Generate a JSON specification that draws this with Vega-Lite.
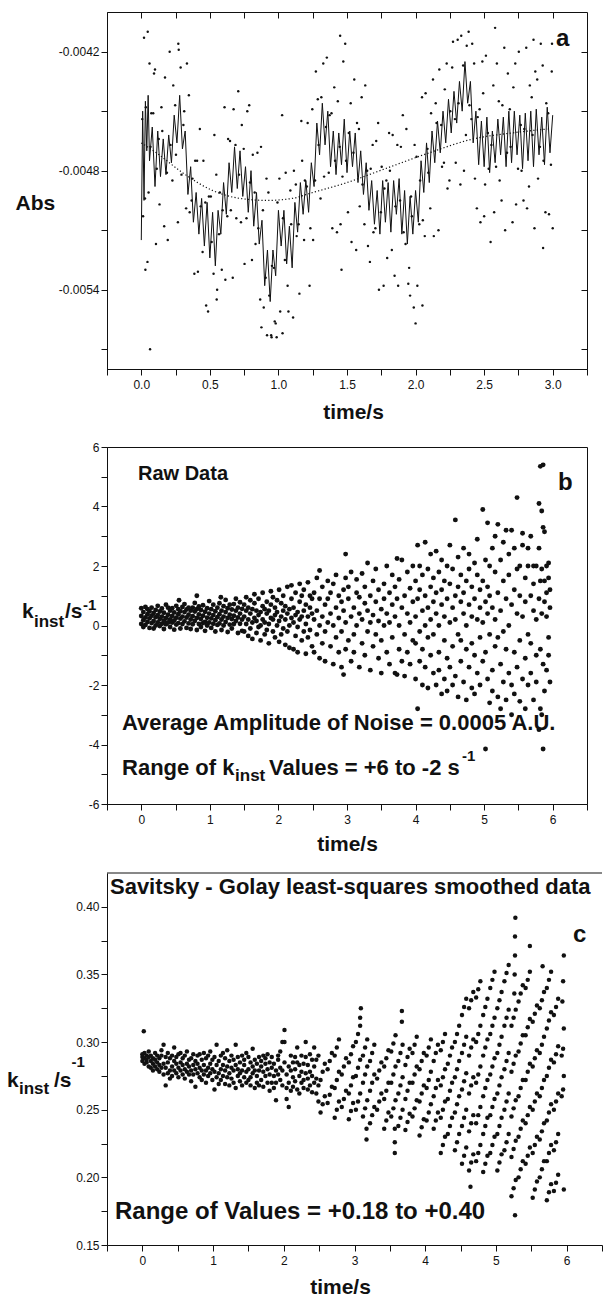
{
"$schema":"https://vega.github.io/schema/vega-lite/v6.json",
"background":"white",
"padding":{"left":7,"top":11,"right":0,"bottom":0},
"spacing":17,
"config":{"font":"Liberation Sans","view":{"stroke":"#111","strokeWidth":1},
"axis":{"grid":false,"labelFontSize":12,"labelColor":"#111","tickColor":"#111","domainColor":"#111","tickSize":6,"titleFontSize":21,"titleFontWeight":"bold","titleColor":"#111","labelOverlap":false,"labelFlush":false,"labelBound":false},
"axisY":{"labelPadding":2},"axisX":{"labelPadding":4}},
"vconcat":[
{"width":480,"height":357,
"resolve":{"axis":{"x":"independent","y":"independent"}},
"layer":[
{"data":{"values":[
{"t":0.007,"v":-0.00454},{"t":0.027,"v":-0.00494},{"t":0.047,"v":-0.0041},{"t":0.067,"v":-0.00468},{"t":0.087,"v":-0.00451},{"t":0.107,"v":-0.00517},{"t":0.127,"v":-0.00464},{"t":0.147,"v":-0.00448},{"t":0.167,"v":-0.00508},{"t":0.187,"v":-0.00481},
{"t":0.207,"v":-0.0042},{"t":0.227,"v":-0.00485},{"t":0.247,"v":-0.00447},{"t":0.267,"v":-0.00506},{"t":0.287,"v":-0.00428},{"t":0.307,"v":-0.00457},{"t":0.327,"v":-0.00499},{"t":0.347,"v":-0.00442},{"t":0.367,"v":-0.00495},{"t":0.387,"v":-0.00532},
{"t":0.407,"v":-0.00475},{"t":0.427,"v":-0.00459},{"t":0.447,"v":-0.00521},{"t":0.467,"v":-0.00496},{"t":0.487,"v":-0.00551},{"t":0.507,"v":-0.00493},{"t":0.527,"v":-0.00532},{"t":0.547,"v":-0.00482},{"t":0.567,"v":-0.00512},{"t":0.587,"v":-0.0053},
{"t":0.607,"v":-0.00448},{"t":0.627,"v":-0.00503},{"t":0.647,"v":-0.00465},{"t":0.667,"v":-0.00534},{"t":0.687,"v":-0.00467},{"t":0.707,"v":-0.0044},{"t":0.727,"v":-0.00506},{"t":0.747,"v":-0.00469},{"t":0.767,"v":-0.00504},{"t":0.787,"v":-0.00447},
{"t":0.807,"v":-0.00525},{"t":0.827,"v":-0.00491},{"t":0.847,"v":-0.00471},{"t":0.867,"v":-0.00545},{"t":0.887,"v":-0.005},{"t":0.907,"v":-0.00534},{"t":0.927,"v":-0.00491},{"t":0.947,"v":-0.00563},{"t":0.967,"v":-0.00529},{"t":0.987,"v":-0.00564},
{"t":1.007,"v":-0.00484},{"t":1.027,"v":-0.00452},{"t":1.047,"v":-0.00525},{"t":1.067,"v":-0.00538},{"t":1.087,"v":-0.0049},{"t":1.107,"v":-0.00554},{"t":1.127,"v":-0.00487},{"t":1.147,"v":-0.00507},{"t":1.167,"v":-0.00455},{"t":1.187,"v":-0.00515},
{"t":1.207,"v":-0.00488},{"t":1.227,"v":-0.00538},{"t":1.247,"v":-0.00449},{"t":1.267,"v":-0.00485},{"t":1.287,"v":-0.00444},{"t":1.307,"v":-0.00494},{"t":1.327,"v":-0.00426},{"t":1.347,"v":-0.00458},{"t":1.367,"v":-0.00481},{"t":1.387,"v":-0.00451},
{"t":1.407,"v":-0.00438},{"t":1.427,"v":-0.00511},{"t":1.447,"v":-0.00468},{"t":1.467,"v":-0.00483},{"t":1.487,"v":-0.00416},{"t":1.507,"v":-0.00501},{"t":1.527,"v":-0.00446},{"t":1.547,"v":-0.00471},{"t":1.567,"v":-0.0052},{"t":1.587,"v":-0.00459},
{"t":1.607,"v":-0.00443},{"t":1.627,"v":-0.00507},{"t":1.647,"v":-0.0048},{"t":1.667,"v":-0.00526},{"t":1.687,"v":-0.00467},{"t":1.707,"v":-0.00509},{"t":1.727,"v":-0.00456},{"t":1.747,"v":-0.00501},{"t":1.767,"v":-0.00538},{"t":1.787,"v":-0.00485},
{"t":1.807,"v":-0.00461},{"t":1.827,"v":-0.0052},{"t":1.847,"v":-0.00533},{"t":1.867,"v":-0.00467},{"t":1.887,"v":-0.00495},{"t":1.907,"v":-0.00452},{"t":1.927,"v":-0.00517},{"t":1.947,"v":-0.00537},{"t":1.967,"v":-0.00493},{"t":1.987,"v":-0.00549},
{"t":2.007,"v":-0.00473},{"t":2.027,"v":-0.00507},{"t":2.047,"v":-0.00443},{"t":2.067,"v":-0.00513},{"t":2.087,"v":-0.00469},{"t":2.107,"v":-0.00499},{"t":2.127,"v":-0.00434},{"t":2.147,"v":-0.00446},{"t":2.167,"v":-0.0051},{"t":2.187,"v":-0.00457},
{"t":2.207,"v":-0.00476},{"t":2.227,"v":-0.00426},{"t":2.247,"v":-0.00485},{"t":2.267,"v":-0.00428},{"t":2.287,"v":-0.00454},{"t":2.307,"v":-0.00414},{"t":2.327,"v":-0.00487},{"t":2.347,"v":-0.00427},{"t":2.367,"v":-0.00462},{"t":2.387,"v":-0.0041},
{"t":2.407,"v":-0.00454},{"t":2.427,"v":-0.00426},{"t":2.447,"v":-0.00499},{"t":2.467,"v":-0.00449},{"t":2.487,"v":-0.00425},{"t":2.507,"v":-0.00487},{"t":2.527,"v":-0.00461},{"t":2.547,"v":-0.00516},{"t":2.567,"v":-0.00437},{"t":2.587,"v":-0.00478},
{"t":2.607,"v":-0.00445},{"t":2.627,"v":-0.00495},{"t":2.647,"v":-0.00418},{"t":2.667,"v":-0.00471},{"t":2.687,"v":-0.00449},{"t":2.707,"v":-0.00506},{"t":2.727,"v":-0.00426},{"t":2.747,"v":-0.00479},{"t":2.767,"v":-0.00457},{"t":2.787,"v":-0.00495},
{"t":2.807,"v":-0.00418},{"t":2.827,"v":-0.00488},{"t":2.847,"v":-0.00443},{"t":2.867,"v":-0.00509},{"t":2.887,"v":-0.00434},{"t":2.907,"v":-0.00468},{"t":2.927,"v":-0.00427},{"t":2.947,"v":-0.00501},{"t":2.967,"v":-0.00451},{"t":2.987,"v":-0.00477},{"t":2.995,"v":-0.00416},
{"t":0.013,"v":-0.00503},{"t":0.033,"v":-0.00448},{"t":0.053,"v":-0.00491},{"t":0.073,"v":-0.00451},{"t":0.093,"v":-0.00431},{"t":0.113,"v":-0.00479},{"t":0.133,"v":-0.00497},{"t":0.153,"v":-0.0046},{"t":0.173,"v":-0.00433},{"t":0.193,"v":-0.00515},
{"t":0.213,"v":-0.00467},{"t":0.233,"v":-0.00437},{"t":0.253,"v":-0.00472},{"t":0.273,"v":-0.00419},{"t":0.293,"v":-0.00482},{"t":0.313,"v":-0.0045},{"t":0.333,"v":-0.00426},{"t":0.353,"v":-0.00501},{"t":0.373,"v":-0.00484},{"t":0.393,"v":-0.00475},
{"t":0.413,"v":-0.00531},{"t":0.433,"v":-0.00498},{"t":0.453,"v":-0.00475},{"t":0.473,"v":-0.00548},{"t":0.493,"v":-0.00493},{"t":0.513,"v":-0.00516},{"t":0.533,"v":-0.00462},{"t":0.553,"v":-0.0054},{"t":0.573,"v":-0.00491},{"t":0.593,"v":-0.005},
{"t":0.613,"v":-0.00535},{"t":0.633,"v":-0.00464},{"t":0.653,"v":-0.005},{"t":0.673,"v":-0.00449},{"t":0.693,"v":-0.00504},{"t":0.713,"v":-0.00482},{"t":0.733,"v":-0.00457},{"t":0.753,"v":-0.00527},{"t":0.773,"v":-0.0045},{"t":0.793,"v":-0.00486},
{"t":0.813,"v":-0.00472},{"t":0.833,"v":-0.00517},{"t":0.853,"v":-0.00509},{"t":0.873,"v":-0.00468},{"t":0.893,"v":-0.00549},{"t":0.913,"v":-0.00484},{"t":0.933,"v":-0.00543},{"t":0.953,"v":-0.00528},{"t":0.973,"v":-0.00556},{"t":0.993,"v":-0.00496},
{"t":1.013,"v":-0.00551},{"t":1.033,"v":-0.00504},{"t":1.053,"v":-0.00481},{"t":1.073,"v":-0.00551},{"t":1.093,"v":-0.00507},{"t":1.113,"v":-0.0048},{"t":1.133,"v":-0.00513},{"t":1.153,"v":-0.00542},{"t":1.173,"v":-0.00475},{"t":1.193,"v":-0.00485},
{"t":1.213,"v":-0.00456},{"t":1.233,"v":-0.00509},{"t":1.253,"v":-0.00515},{"t":1.273,"v":-0.0043},{"t":1.293,"v":-0.00467},{"t":1.313,"v":-0.00443},{"t":1.333,"v":-0.00483},{"t":1.353,"v":-0.00423},{"t":1.373,"v":-0.00452},{"t":1.393,"v":-0.00509},
{"t":1.413,"v":-0.00475},{"t":1.433,"v":-0.00445},{"t":1.453,"v":-0.00507},{"t":1.473,"v":-0.00425},{"t":1.493,"v":-0.00475},{"t":1.513,"v":-0.00461},{"t":1.533,"v":-0.00516},{"t":1.553,"v":-0.00434},{"t":1.573,"v":-0.00456},{"t":1.593,"v":-0.00498},
{"t":1.613,"v":-0.00487},{"t":1.633,"v":-0.00437},{"t":1.653,"v":-0.00518},{"t":1.673,"v":-0.00479},{"t":1.693,"v":-0.00511},{"t":1.713,"v":-0.00465},{"t":1.733,"v":-0.0054},{"t":1.753,"v":-0.00478},{"t":1.773,"v":-0.00489},{"t":1.793,"v":-0.00524},
{"t":1.813,"v":-0.0048},{"t":1.833,"v":-0.00462},{"t":1.853,"v":-0.00498},{"t":1.873,"v":-0.00538},{"t":1.893,"v":-0.00468},{"t":1.913,"v":-0.00511},{"t":1.933,"v":-0.00459},{"t":1.953,"v":-0.00529},{"t":1.973,"v":-0.00503},{"t":1.993,"v":-0.00467},
{"t":2.013,"v":-0.00538},{"t":2.033,"v":-0.00485},{"t":2.053,"v":-0.00505},{"t":2.073,"v":-0.00441},{"t":2.093,"v":-0.00481},{"t":2.113,"v":-0.00451},{"t":2.133,"v":-0.00513},{"t":2.153,"v":-0.00456},{"t":2.173,"v":-0.00429},{"t":2.193,"v":-0.00478},
{"t":2.213,"v":-0.00439},{"t":2.233,"v":-0.00489},{"t":2.253,"v":-0.0045},{"t":2.273,"v":-0.00415},{"t":2.293,"v":-0.00476},{"t":2.313,"v":-0.00446},{"t":2.333,"v":-0.00412},{"t":2.353,"v":-0.0048},{"t":2.373,"v":-0.00417},{"t":2.393,"v":-0.00447},
{"t":2.413,"v":-0.00416},{"t":2.433,"v":-0.00484},{"t":2.453,"v":-0.00453},{"t":2.473,"v":-0.00506},{"t":2.493,"v":-0.00441},{"t":2.513,"v":-0.00422},{"t":2.533,"v":-0.00479},{"t":2.553,"v":-0.00467},{"t":2.573,"v":-0.00501},{"t":2.593,"v":-0.00426},
{"t":2.613,"v":-0.00485},{"t":2.633,"v":-0.00447},{"t":2.653,"v":-0.0051},{"t":2.673,"v":-0.00431},{"t":2.693,"v":-0.00468},{"t":2.713,"v":-0.00438},{"t":2.733,"v":-0.00497},{"t":2.753,"v":-0.0042},{"t":2.773,"v":-0.0048},{"t":2.793,"v":-0.00459},
{"t":2.813,"v":-0.00499},{"t":2.833,"v":-0.00437},{"t":2.853,"v":-0.00462},{"t":2.873,"v":-0.0043},{"t":2.893,"v":-0.00484},{"t":2.913,"v":-0.00416},{"t":2.933,"v":-0.00475},{"t":2.953,"v":-0.00446},{"t":2.973,"v":-0.00502},{"t":2.993,"v":-0.0043},
{"t":0.064,"v":-0.0057},{"t":0.876,"v":-0.00559},{"t":0.917,"v":-0.00563},{"t":0.95,"v":-0.00564},{"t":1.03,"v":-0.00562},{"t":0.98,"v":-0.00557},{"t":2.0,"v":-0.00557},{"t":2.05,"v":-0.00548},{"t":1.96,"v":-0.00543},{"t":0.55,"v":-0.00545},
{"t":0.02,"v":-0.00413},{"t":0.06,"v":-0.00426},{"t":0.1,"v":-0.00429},{"t":0.27,"v":-0.00416},{"t":1.45,"v":-0.00412},{"t":2.58,"v":-0.00408},{"t":2.86,"v":-0.00414},{"t":2.93,"v":-0.00519},{"t":3.0,"v":-0.00509},{"t":1.46,"v":-0.0053},{"t":2.5,"v":-0.00503},{"t":0.03,"v":-0.0053},{"t":0.045,"v":-0.00526}
]},
"mark":{"type":"circle","size":6,"color":"#111","opacity":1},
"encoding":{
"x":{"field":"t","type":"quantitative","scale":{"domain":[-0.25,3.25],"nice":false,"zero":false},
"axis":{"orient":"bottom","values":[-0.25,0,0.25,0.5,0.75,1,1.25,1.5,1.75,2,2.25,2.5,2.75,3,3.25],"labelExpr":"datum.value >= 0 && datum.value <= 3 && datum.value*2 == floor(datum.value*2) ? format(datum.value, '.1f') : ''","title":"time/s","titleX":246,"titleY":49,"titleBaseline":"alphabetic","titleAlign":"center"}},
"y":{"field":"v","type":"quantitative","scale":{"domain":[-0.0058,-0.004],"nice":false,"zero":false},
"axis":{"orient":"left","values":[-0.0057,-0.0054,-0.0051,-0.0048,-0.0045,-0.0042],"labelExpr":"datum.value == -0.0042 ? '-0.0042' : datum.value == -0.0048 ? '-0.0048' : datum.value == -0.0054 ? '-0.0054' : ''","title":"Abs","titleAngle":0,"titleAlign":"left","titleBaseline":"alphabetic","titleX":-92,"titleY":197}}}},
{"data":{"values":[
{"t":0,"v":-0.00515},{"t":0.01,"v":-0.0045},{"t":0.02,"v":-0.00495},{"t":0.03,"v":-0.00445},{"t":0.04,"v":-0.0047},{"t":0.05,"v":-0.00442},{"t":0.06,"v":-0.00475},{"t":0.08,"v":-0.00458},{"t":0.1,"v":-0.00488},{"t":0.12,"v":-0.0046},
{"t":0.14,"v":-0.00483},{"t":0.16,"v":-0.00464},{"t":0.18,"v":-0.00482},{"t":0.2,"v":-0.00462},{"t":0.22,"v":-0.00476},{"t":0.24,"v":-0.00452},{"t":0.26,"v":-0.00466},{"t":0.28,"v":-0.00442},{"t":0.3,"v":-0.00469},{"t":0.32,"v":-0.0046},
{"t":0.34,"v":-0.00492},{"t":0.36,"v":-0.00478},{"t":0.38,"v":-0.00506},{"t":0.4,"v":-0.00491},{"t":0.42,"v":-0.00512},{"t":0.44,"v":-0.00494},{"t":0.46,"v":-0.00518},{"t":0.48,"v":-0.00496},{"t":0.5,"v":-0.00524},{"t":0.52,"v":-0.00501},
{"t":0.54,"v":-0.00528},{"t":0.56,"v":-0.005},{"t":0.58,"v":-0.00512},{"t":0.6,"v":-0.00486},{"t":0.62,"v":-0.00502},{"t":0.64,"v":-0.00476},{"t":0.66,"v":-0.00491},{"t":0.68,"v":-0.00468},{"t":0.7,"v":-0.00489},{"t":0.72,"v":-0.0047},
{"t":0.74,"v":-0.00493},{"t":0.76,"v":-0.00478},{"t":0.78,"v":-0.00501},{"t":0.8,"v":-0.0048},{"t":0.82,"v":-0.00508},{"t":0.84,"v":-0.00491},{"t":0.86,"v":-0.00517},{"t":0.88,"v":-0.00505},{"t":0.9,"v":-0.00538},{"t":0.92,"v":-0.0052},
{"t":0.94,"v":-0.00546},{"t":0.96,"v":-0.0052},{"t":0.98,"v":-0.00533},{"t":1,"v":-0.005},{"t":1.02,"v":-0.00518},{"t":1.04,"v":-0.005},{"t":1.06,"v":-0.00527},{"t":1.08,"v":-0.00508},{"t":1.1,"v":-0.00529},{"t":1.12,"v":-0.00496},
{"t":1.14,"v":-0.00511},{"t":1.16,"v":-0.00486},{"t":1.18,"v":-0.00502},{"t":1.2,"v":-0.00485},{"t":1.22,"v":-0.00501},{"t":1.24,"v":-0.00476},{"t":1.26,"v":-0.00488},{"t":1.28,"v":-0.00456},{"t":1.3,"v":-0.00472},{"t":1.32,"v":-0.00446},
{"t":1.34,"v":-0.00467},{"t":1.36,"v":-0.0045},{"t":1.38,"v":-0.00478},{"t":1.4,"v":-0.0046},{"t":1.42,"v":-0.00482},{"t":1.44,"v":-0.00461},{"t":1.46,"v":-0.00477},{"t":1.48,"v":-0.00454},{"t":1.5,"v":-0.00481},{"t":1.52,"v":-0.0046},
{"t":1.54,"v":-0.00478},{"t":1.56,"v":-0.00461},{"t":1.58,"v":-0.00486},{"t":1.6,"v":-0.0047},{"t":1.62,"v":-0.00492},{"t":1.64,"v":-0.00476},{"t":1.66,"v":-0.005},{"t":1.68,"v":-0.00485},{"t":1.7,"v":-0.00507},{"t":1.72,"v":-0.0049},
{"t":1.74,"v":-0.00512},{"t":1.76,"v":-0.00485},{"t":1.78,"v":-0.00506},{"t":1.8,"v":-0.00486},{"t":1.82,"v":-0.00511},{"t":1.84,"v":-0.00485},{"t":1.86,"v":-0.00502},{"t":1.88,"v":-0.00484},{"t":1.9,"v":-0.00512},{"t":1.92,"v":-0.0049},
{"t":1.94,"v":-0.00517},{"t":1.96,"v":-0.00493},{"t":1.98,"v":-0.00512},{"t":2,"v":-0.0049},{"t":2.02,"v":-0.00506},{"t":2.04,"v":-0.00475},{"t":2.06,"v":-0.00491},{"t":2.08,"v":-0.00466},{"t":2.1,"v":-0.00486},{"t":2.12,"v":-0.0046},
{"t":2.14,"v":-0.00476},{"t":2.16,"v":-0.00455},{"t":2.18,"v":-0.00471},{"t":2.2,"v":-0.0045},{"t":2.22,"v":-0.00466},{"t":2.24,"v":-0.00444},{"t":2.26,"v":-0.00461},{"t":2.28,"v":-0.0044},{"t":2.3,"v":-0.00456},{"t":2.32,"v":-0.00435},
{"t":2.34,"v":-0.0045},{"t":2.36,"v":-0.00425},{"t":2.38,"v":-0.00446},{"t":2.4,"v":-0.00435},{"t":2.42,"v":-0.00466},{"t":2.44,"v":-0.0045},{"t":2.46,"v":-0.00477},{"t":2.48,"v":-0.00455},{"t":2.5,"v":-0.00478},{"t":2.52,"v":-0.00453},
{"t":2.54,"v":-0.00481},{"t":2.56,"v":-0.0046},{"t":2.58,"v":-0.00476},{"t":2.6,"v":-0.00454},{"t":2.62,"v":-0.00472},{"t":2.64,"v":-0.00453},{"t":2.66,"v":-0.00478},{"t":2.68,"v":-0.0045},{"t":2.7,"v":-0.00476},{"t":2.72,"v":-0.0045},
{"t":2.74,"v":-0.00472},{"t":2.76,"v":-0.00452},{"t":2.78,"v":-0.00479},{"t":2.8,"v":-0.00451},{"t":2.82,"v":-0.00475},{"t":2.84,"v":-0.0045},{"t":2.86,"v":-0.00478},{"t":2.88,"v":-0.00449},{"t":2.9,"v":-0.00472},{"t":2.92,"v":-0.00453},
{"t":2.94,"v":-0.00477},{"t":2.96,"v":-0.00448},{"t":2.98,"v":-0.00471},{"t":3,"v":-0.00452}
]},
"mark":{"type":"line","color":"#111","strokeWidth":1},
"encoding":{
"x":{"field":"t","type":"quantitative","scale":{"domain":[-0.25,3.25],"nice":false,"zero":false},"axis":{"orient":"top","values":[0,0.25,0.5,0.75,1,1.25,1.5,1.75,2,2.25,2.5,2.75,3],"labels":false,"tickSize":-6,"domain":false,"title":null}},
"y":{"field":"v","type":"quantitative","scale":{"domain":[-0.0058,-0.004],"nice":false,"zero":false},"axis":{"orient":"right","values":[-0.0057,-0.0054,-0.0051,-0.0048,-0.0045,-0.0042],"labels":false,"tickSize":-6,"domain":false,"title":null}}}},
{"data":{"values":[
{"t":0,"v":-0.00466},{"t":0.11,"v":-0.00471},{"t":0.3,"v":-0.00481},{"t":0.52,"v":-0.0049},{"t":0.72,"v":-0.00494},{"t":0.92,"v":-0.00495},{"t":1.1,"v":-0.00494},{"t":1.25,"v":-0.00491},{"t":1.5,"v":-0.00486},{"t":1.74,"v":-0.0048},{"t":2.1,"v":-0.00471},{"t":2.42,"v":-0.00464},{"t":2.7,"v":-0.00461},{"t":2.96,"v":-0.00459}
]},
"mark":{"type":"line","color":"#111","strokeWidth":1.2,"strokeDash":[1.2,2.2],"interpolate":"monotone"},
"encoding":{"x":{"field":"t","type":"quantitative","axis":null},"y":{"field":"v","type":"quantitative","axis":null}}},
{"data":{"values":[{}]},
"mark":{"type":"text","text":"a","fontSize":24,"fontWeight":"bold","align":"left","baseline":"alphabetic","color":"#111"},
"encoding":{"x":{"datum":3.024,"type":"quantitative","axis":null},"y":{"datum":-0.004171,"type":"quantitative","axis":null}}}
]},
{"width":480,"height":357,
"resolve":{"axis":{"x":"independent","y":"independent"}},
"layer":[
{"data":{"values":[
{"t":0,"v":0.05},{"t":0,"v":0.32},{"t":0,"v":0.58},{"t":0.03,"v":0.18},{"t":0.03,"v":0.45},{"t":0.03,"v":-0.05},{"t":0.06,"v":0.27},{"t":0.06,"v":0.62},{"t":0.06,"v":0.02},{"t":0.09,"v":0.12},{"t":0.09,"v":0.38},{"t":0.09,"v":0.55},
{"t":0.12,"v":-0.08},{"t":0.12,"v":0.24},{"t":0.12,"v":0.48},{"t":0.15,"v":0.33},{"t":0.15,"v":0.6},{"t":0.15,"v":0.08},{"t":0.18,"v":0.15},{"t":0.18,"v":0.42},{"t":0.18,"v":-0.1},{"t":0.21,"v":0.28},{"t":0.21,"v":0.52},{"t":0.21,"v":0},
{"t":0.24,"v":0.1},{"t":0.24,"v":0.35},{"t":0.24,"v":0.66},{"t":0.27,"v":-0.02},{"t":0.27,"v":0.22},{"t":0.27,"v":0.47},{"t":0.3,"v":0.3},{"t":0.3,"v":0.57},{"t":0.3,"v":0.06},{"t":0.33,"v":0.16},{"t":0.33,"v":0.43},{"t":0.33,"v":-0.12},
{"t":0.36,"v":0.25},{"t":0.36,"v":0.7},{"t":0.36,"v":0.04},{"t":0.39,"v":0.1},{"t":0.39,"v":0.36},{"t":0.39,"v":0.6},{"t":0.42,"v":-0.05},{"t":0.42,"v":0.2},{"t":0.42,"v":0.5},{"t":0.45,"v":0.32},{"t":0.45,"v":0.58},{"t":0.45,"v":0.1},
{"t":0.48,"v":0.17},{"t":0.48,"v":0.44},{"t":0.48,"v":-0.14},{"t":0.51,"v":0.26},{"t":0.51,"v":0.66},{"t":0.51,"v":0.03},{"t":0.54,"v":0.08},{"t":0.54,"v":0.38},{"t":0.54,"v":0.55},{"t":0.57,"v":-0.1},{"t":0.57,"v":0.23},{"t":0.57,"v":0.48},
{"t":0.6,"v":0.3},{"t":0.6,"v":0.62},{"t":0.6,"v":0.05},{"t":0.63,"v":0.14},{"t":0.63,"v":0.45},{"t":0.63,"v":0.72},{"t":0.66,"v":0.27},{"t":0.66,"v":0.54},{"t":0.66,"v":-0.08},{"t":0.69,"v":0.07},{"t":0.69,"v":0.36},{"t":0.69,"v":0.6},
{"t":0.72,"v":-0.12},{"t":0.72,"v":0.2},{"t":0.72,"v":0.5},{"t":0.75,"v":0.31},{"t":0.75,"v":0.6},{"t":0.75,"v":0.04},{"t":0.78,"v":0.15},{"t":0.78,"v":0.47},{"t":0.78,"v":0.76},{"t":0.81,"v":0.25},{"t":0.81,"v":0.55},{"t":0.81,"v":-0.15},
{"t":0.84,"v":0.05},{"t":0.84,"v":0.37},{"t":0.84,"v":0.64},{"t":0.87,"v":-0.05},{"t":0.87,"v":0.22},{"t":0.87,"v":0.52},{"t":0.9,"v":0.33},{"t":0.9,"v":0.68},{"t":0.9,"v":0.08},{"t":0.93,"v":0.12},{"t":0.93,"v":0.46},{"t":0.93,"v":-0.18},
{"t":0.96,"v":0.26},{"t":0.96,"v":0.58},{"t":0.96,"v":0},{"t":0.99,"v":0.1},{"t":0.99,"v":0.4},{"t":0.99,"v":0.82},{"t":1.02,"v":-0.08},{"t":1.02,"v":0.24},{"t":1.02,"v":0.55},{"t":1.05,"v":0.35},{"t":1.05,"v":0.7},{"t":1.05,"v":0.06},
{"t":1.08,"v":0.18},{"t":1.08,"v":0.48},{"t":1.08,"v":-0.2},{"t":1.11,"v":0.28},{"t":1.11,"v":0.6},{"t":1.11,"v":0.02},{"t":1.14,"v":0.07},{"t":1.14,"v":0.38},{"t":1.14,"v":0.75},{"t":1.17,"v":-0.15},{"t":1.17,"v":0.2},{"t":1.17,"v":0.5},
{"t":1.2,"v":0.3},{"t":1.2,"v":0.65},{"t":1.2,"v":0},{"t":1.23,"v":0.12},{"t":1.23,"v":0.45},{"t":1.23,"v":0.86},{"t":1.26,"v":0.25},{"t":1.26,"v":0.58},{"t":1.26,"v":-0.22},{"t":1.29,"v":0.03},{"t":1.29,"v":0.36},{"t":1.29,"v":0.7},
{"t":1.32,"v":-0.1},{"t":1.32,"v":0.22},{"t":1.32,"v":0.54},{"t":1.35,"v":0.33},{"t":1.35,"v":0.72},{"t":1.35,"v":0.05},{"t":1.38,"v":0.15},{"t":1.38,"v":0.5},{"t":1.38,"v":0.9},{"t":1.41,"v":0.27},{"t":1.41,"v":0.6},{"t":1.41,"v":-0.25},
{"t":1.44,"v":0.06},{"t":1.44,"v":0.4},{"t":1.44,"v":0.78},{"t":1.47,"v":-0.18},{"t":1.47,"v":0.2},{"t":1.47,"v":0.56},{"t":0.81,"v":1.0},{"t":1.16,"v":0.95},{"t":0.55,"v":0.85},
{"t":1.5,"v":0.3},{"t":1.5,"v":0.7},{"t":1.5,"v":-0.2},{"t":1.53,"v":0.05},{"t":1.53,"v":0.5},{"t":1.53,"v":0.95},{"t":1.56,"v":-0.35},{"t":1.56,"v":0.2},{"t":1.56,"v":0.6},{"t":1.59,"v":0.4},{"t":1.59,"v":0.85},{"t":1.59,"v":-0.1},
{"t":1.62,"v":0.1},{"t":1.62,"v":0.55},{"t":1.62,"v":-0.45},{"t":1.65,"v":0.25},{"t":1.65,"v":0.75},{"t":1.65,"v":1.05},{"t":1.68,"v":-0.25},{"t":1.68,"v":0.15},{"t":1.68,"v":0.5},{"t":1.71,"v":0.35},{"t":1.71,"v":0.9},{"t":1.71,"v":-0.05},
{"t":1.74,"v":0},{"t":1.74,"v":0.45},{"t":1.74,"v":-0.5},{"t":1.77,"v":0.2},{"t":1.77,"v":0.65},{"t":1.77,"v":1.1},{"t":1.8,"v":-0.3},{"t":1.8,"v":0.1},{"t":1.8,"v":0.55},{"t":1.83,"v":0.4},{"t":1.83,"v":0.8},{"t":1.83,"v":-0.15},
{"t":1.86,"v":0.05},{"t":1.86,"v":0.5},{"t":1.86,"v":-0.6},{"t":1.89,"v":0.25},{"t":1.89,"v":0.7},{"t":1.89,"v":1.15},{"t":1.92,"v":-0.2},{"t":1.92,"v":0.2},{"t":1.92,"v":0.95},{"t":1.95,"v":0.35},{"t":1.95,"v":0.6},{"t":1.95,"v":-0.4},
{"t":1.98,"v":0},{"t":1.98,"v":0.45},{"t":1.98,"v":0.85},{"t":2.01,"v":-0.55},{"t":2.01,"v":0.15},{"t":2.01,"v":1.2},{"t":2.04,"v":0.3},{"t":2.04,"v":0.75},{"t":2.04,"v":-0.3},{"t":2.07,"v":-0.1},{"t":2.07,"v":0.5},{"t":2.07,"v":1},
{"t":2.1,"v":0.2},{"t":2.1,"v":-0.65},{"t":2.1,"v":0.65},{"t":2.13,"v":0.4},{"t":2.13,"v":1.3},{"t":2.13,"v":-0.2},{"t":2.16,"v":0},{"t":2.16,"v":0.55},{"t":2.16,"v":-0.75},{"t":2.19,"v":0.25},{"t":2.19,"v":0.9},{"t":2.19,"v":1.35},
{"t":2.22,"v":-0.8},{"t":2.22,"v":0.1},{"t":2.22,"v":0.6},{"t":2.25,"v":0.35},{"t":2.25,"v":1.1},{"t":2.25,"v":-0.35},{"t":2.28,"v":-0.05},{"t":2.28,"v":0.45},{"t":2.28,"v":-0.9},{"t":2.31,"v":0.2},{"t":2.31,"v":0.8},{"t":2.31,"v":1.4},
{"t":2.34,"v":-0.5},{"t":2.34,"v":0.3},{"t":2.34,"v":1},{"t":2.37,"v":0.5},{"t":2.37,"v":-0.2},{"t":2.37,"v":1.2},{"t":2.4,"v":0.05},{"t":2.4,"v":0.7},{"t":2.4,"v":-0.95},{"t":2.43,"v":0.3},{"t":2.43,"v":1.45},{"t":2.43,"v":-0.4},
{"t":2.46,"v":-0.15},{"t":2.46,"v":0.6},{"t":2.46,"v":1},{"t":2.49,"v":0.4},{"t":2.49,"v":-0.7},{"t":2.49,"v":0.9},
{"t":2.52,"v":-0.9},{"t":2.52,"v":0.2},{"t":2.52,"v":1.1},{"t":2.56,"v":0.5},{"t":2.56,"v":-0.3},{"t":2.56,"v":1.6},{"t":2.6,"v":-1.1},{"t":2.6,"v":0},{"t":2.6,"v":0.9},{"t":2.6,"v":1.85},
{"t":2.64,"v":0.3},{"t":2.64,"v":1.3},{"t":2.64,"v":-0.6},{"t":2.68,"v":-0.2},{"t":2.68,"v":0.7},{"t":2.68,"v":-1.2},{"t":2.72,"v":0.9},{"t":2.72,"v":0.1},{"t":2.72,"v":1.5},{"t":2.76,"v":-0.7},{"t":2.76,"v":0.4},{"t":2.76,"v":1.1},
{"t":2.8,"v":0},{"t":2.8,"v":-1.3},{"t":2.8,"v":1.4},{"t":2.84,"v":0.6},{"t":2.84,"v":-0.4},{"t":2.84,"v":1.7},{"t":2.88,"v":-0.9},{"t":2.88,"v":0.25},{"t":2.88,"v":1},{"t":2.92,"v":0.8},{"t":2.92,"v":-0.2},{"t":2.92,"v":-1.4},
{"t":2.95,"v":-1.65},{"t":2.95,"v":0.5},{"t":2.95,"v":1.2},{"t":2.98,"v":0.1},{"t":2.98,"v":1.6},{"t":2.98,"v":-0.8},{"t":2.98,"v":2.4},{"t":3.02,"v":-0.5},{"t":3.02,"v":0.9},{"t":3.02,"v":1.3},
{"t":3.06,"v":0.3},{"t":3.06,"v":-1.2},{"t":3.06,"v":1.8},{"t":3.1,"v":-0.3},{"t":3.1,"v":0.6},{"t":3.1,"v":-0.9},{"t":3.14,"v":1.1},{"t":3.14,"v":0},{"t":3.14,"v":1.55},{"t":3.18,"v":-1.4},{"t":3.18,"v":0.4},{"t":3.18,"v":0.95},
{"t":3.22,"v":0.2},{"t":3.22,"v":-0.6},{"t":3.22,"v":1.75},{"t":3.26,"v":0.75},{"t":3.26,"v":-1},{"t":3.26,"v":1.3},{"t":3.3,"v":-0.2},{"t":3.3,"v":0.5},{"t":3.3,"v":2.1},{"t":3.34,"v":1},{"t":3.34,"v":-1.5},{"t":3.34,"v":0.1},
{"t":3.38,"v":-0.7},{"t":3.38,"v":0.35},{"t":3.38,"v":1.5},{"t":3.42,"v":0.8},{"t":3.42,"v":-0.3},{"t":3.42,"v":1.9},{"t":3.46,"v":-1.1},{"t":3.46,"v":0.15},{"t":3.46,"v":1.2},{"t":3.5,"v":0.55},{"t":3.5,"v":-0.5},{"t":3.5,"v":-1.6},
{"t":3.54,"v":1.4},{"t":3.54,"v":0},{"t":3.54,"v":0.9},{"t":3.58,"v":-0.9},{"t":3.58,"v":0.4},{"t":3.58,"v":2},{"t":3.62,"v":0.1},{"t":3.62,"v":1.1},{"t":3.62,"v":-1.3},{"t":3.66,"v":-0.4},{"t":3.66,"v":0.7},{"t":3.66,"v":1.7},
{"t":3.7,"v":-1.6},{"t":3.7,"v":0.3},{"t":3.7,"v":1.3},{"t":3.73,"v":-1.65},{"t":3.73,"v":0.9},{"t":3.73,"v":2.25},{"t":3.76,"v":0},{"t":3.76,"v":-0.8},{"t":3.76,"v":1.55},{"t":3.8,"v":0.6},{"t":3.8,"v":-1.2},{"t":3.8,"v":2.2},
{"t":3.84,"v":-0.3},{"t":3.84,"v":1},{"t":3.84,"v":-1.7},{"t":3.88,"v":0.4},{"t":3.88,"v":1.8},{"t":3.88,"v":-0.9},{"t":3.92,"v":-1.3},{"t":3.92,"v":0.1},{"t":3.92,"v":1.25},{"t":3.96,"v":0.8},{"t":3.96,"v":-0.5},{"t":3.96,"v":2},
{"t":4,"v":-1.8},{"t":4,"v":0.3},{"t":4,"v":1.5},{"t":4,"v":-0.6},{"t":4.03,"v":-2.8},{"t":4.03,"v":0.9},{"t":4.03,"v":2.7},{"t":4.06,"v":-0.2},{"t":4.06,"v":1.2},{"t":4.06,"v":-1.2},{"t":4.06,"v":2},
{"t":4.1,"v":0.5},{"t":4.1,"v":-2},{"t":4.1,"v":1.7},{"t":4.1,"v":-0.8},{"t":4.14,"v":2.8},{"t":4.14,"v":0},{"t":4.14,"v":-1.4},{"t":4.14,"v":1},{"t":4.18,"v":-0.4},{"t":4.18,"v":1.9},{"t":4.18,"v":-2.1},{"t":4.18,"v":0.6},
{"t":4.22,"v":1.3},{"t":4.22,"v":-1},{"t":4.22,"v":2.4},{"t":4.22,"v":0.2},{"t":4.26,"v":-1.6},{"t":4.26,"v":0.8},{"t":4.26,"v":-0.3},{"t":4.26,"v":1.6},{"t":4.3,"v":2.5},{"t":4.3,"v":-2},{"t":4.3,"v":0.4},{"t":4.3,"v":1.1},
{"t":4.34,"v":-0.9},{"t":4.34,"v":1.8},{"t":4.34,"v":-1.5},{"t":4.34,"v":0},{"t":4.38,"v":1.2},{"t":4.38,"v":-2.3},{"t":4.38,"v":2.2},{"t":4.38,"v":0.7},{"t":4.42,"v":-0.5},{"t":4.42,"v":1.5},{"t":4.42,"v":-1.8},{"t":4.42,"v":0.3},
{"t":4.46,"v":2},{"t":4.46,"v":-1.1},{"t":4.46,"v":0.9},{"t":4.46,"v":-2.2},{"t":4.5,"v":0.1},{"t":4.5,"v":1.4},{"t":4.5,"v":-1.4},{"t":4.5,"v":2.7},{"t":4.54,"v":-2},{"t":4.54,"v":0.6},{"t":4.54,"v":1.9},{"t":4.54,"v":-0.7},
{"t":4.58,"v":1},{"t":4.58,"v":-1.7},{"t":4.58,"v":3.55},{"t":4.58,"v":0.2},{"t":4.62,"v":-0.3},{"t":4.62,"v":2.3},{"t":4.62,"v":-2.4},{"t":4.62,"v":1.3},{"t":4.66,"v":0.8},{"t":4.66,"v":-1.2},{"t":4.66,"v":1.7},{"t":4.66,"v":-0.5},
{"t":4.7,"v":2.6},{"t":4.7,"v":-1.9},{"t":4.7,"v":0.4},{"t":4.7,"v":1.1},{"t":4.74,"v":-0.8},{"t":4.74,"v":1.5},{"t":4.74,"v":-2.5},{"t":4.74,"v":0},{"t":4.78,"v":1.9},{"t":4.78,"v":-1.4},{"t":4.78,"v":0.7},{"t":4.78,"v":2.4},
{"t":4.82,"v":-2.1},{"t":4.82,"v":0.3},{"t":4.82,"v":1.3},{"t":4.82,"v":-0.6},{"t":4.86,"v":2.1},{"t":4.86,"v":-1},{"t":4.86,"v":0.9},{"t":4.86,"v":-2.3},{"t":4.9,"v":0.2},{"t":4.9,"v":1.7},{"t":4.9,"v":-1.6},{"t":4.9,"v":2.9},
{"t":4.94,"v":-0.4},{"t":4.94,"v":1.2},{"t":4.94,"v":-2},{"t":4.94,"v":0.6},{"t":4.98,"v":3.9},{"t":4.98,"v":-1.2},{"t":4.98,"v":1.5},{"t":4.98,"v":0.1},{"t":5.02,"v":-4.15},{"t":5.02,"v":0.8},{"t":5.02,"v":-0.9},{"t":5.02,"v":2.2},
{"t":5.05,"v":3.45},{"t":5.05,"v":-1.8},{"t":5.05,"v":0.4},{"t":5.05,"v":1.3},{"t":5.08,"v":-2.6},{"t":5.08,"v":2},{"t":5.08,"v":-0.3},{"t":5.08,"v":1},{"t":5.12,"v":0.6},{"t":5.12,"v":-1.5},{"t":5.12,"v":2.6},{"t":5.12,"v":-2.2},
{"t":5.16,"v":1.8},{"t":5.16,"v":-0.7},{"t":5.16,"v":0.2},{"t":5.16,"v":3},{"t":5.2,"v":3.4},{"t":5.2,"v":-2.4},{"t":5.2,"v":1.1},{"t":5.2,"v":-0.4},{"t":5.24,"v":-1.3},{"t":5.24,"v":2.2},{"t":5.24,"v":0.5},{"t":5.24,"v":-2.8},
{"t":5.28,"v":1.5},{"t":5.28,"v":-0.2},{"t":5.28,"v":2.8},{"t":5.28,"v":-1.9},{"t":5.32,"v":-2.5},{"t":5.32,"v":0.9},{"t":5.32,"v":3.2},{"t":5.32,"v":-0.8},{"t":5.36,"v":2.4},{"t":5.36,"v":-1.6},{"t":5.36,"v":0},{"t":5.36,"v":1.7},
{"t":5.4,"v":-2},{"t":5.4,"v":3.2},{"t":5.4,"v":0.7},{"t":5.4,"v":-3},{"t":5.44,"v":1.2},{"t":5.44,"v":-0.9},{"t":5.44,"v":2.6},{"t":5.44,"v":-2.3},{"t":5.48,"v":4.3},{"t":5.48,"v":-1.4},{"t":5.48,"v":0.4},{"t":5.48,"v":1.9},
{"t":5.52,"v":-2.55},{"t":5.52,"v":2},{"t":5.52,"v":-0.5},{"t":5.52,"v":1},{"t":5.56,"v":0.3},{"t":5.56,"v":2.7},{"t":5.56,"v":-1.8},{"t":5.56,"v":3.1},{"t":5.6,"v":-1.1},{"t":5.6,"v":1.6},{"t":5.6,"v":-2.8},{"t":5.6,"v":0.8},
{"t":5.64,"v":2},{"t":5.64,"v":-0.3},{"t":5.64,"v":2.6},{"t":5.64,"v":-2},{"t":5.68,"v":-1.6},{"t":5.68,"v":1},{"t":5.68,"v":3},{"t":5.68,"v":-0.6},{"t":5.72,"v":0.5},{"t":5.72,"v":2},{"t":5.72,"v":-2.5},{"t":5.72,"v":1.4},
{"t":5.76,"v":-1},{"t":5.76,"v":2},{"t":5.76,"v":0.2},{"t":5.76,"v":-1.9},{"t":5.8,"v":4.1},{"t":5.8,"v":-3.5},{"t":5.8,"v":0.9},{"t":5.8,"v":2.6},{"t":5.82,"v":5.35},{"t":5.82,"v":-2.8},{"t":5.82,"v":1.5},{"t":5.82,"v":-0.8},
{"t":5.84,"v":3.85},{"t":5.84,"v":-3},{"t":5.84,"v":0.4},{"t":5.84,"v":1.9},{"t":5.86,"v":5.4},{"t":5.86,"v":-4.15},{"t":5.86,"v":-1.3},{"t":5.86,"v":3.3},{"t":5.88,"v":3.15},{"t":5.88,"v":0.8},{"t":5.88,"v":-2.2},{"t":5.88,"v":1.5},
{"t":5.91,"v":2},{"t":5.91,"v":-1.5},{"t":5.91,"v":0.3},{"t":5.91,"v":1.1},{"t":5.94,"v":-0.4},{"t":5.94,"v":1.6},{"t":5.94,"v":-1},{"t":5.94,"v":2.1},{"t":5.96,"v":0.6},{"t":5.96,"v":-1.9},{"t":5.96,"v":1.2}
]},
"mark":{"type":"circle","size":24,"color":"#111","opacity":1},
"encoding":{
"x":{"field":"t","type":"quantitative","scale":{"domain":[-0.5,6.5],"nice":false,"zero":false},
"axis":{"values":[-0.5,0,0.5,1,1.5,2,2.5,3,3.5,4,4.5,5,5.5,6,6.5],"labelExpr":"datum.value >= 0 && datum.value <= 6 && datum.value == floor(datum.value) ? '' + datum.value : ''","title":"time/s","titleX":240,"titleY":46,"titleBaseline":"alphabetic","titleAlign":"center"}},
"y":{"field":"v","type":"quantitative","scale":{"domain":[-6,6],"nice":false,"zero":false},
"axis":{"values":[-6,-5,-4,-3,-2,-1,0,1,2,3,4,5,6],"labelExpr":"datum.value % 2 == 0 ? '' + datum.value : ''","title":null}}}},
{"data":{"values":[{}]},"mark":{"type":"text","text":"Raw Data","fontSize":20,"fontWeight":"bold","align":"left","baseline":"alphabetic","color":"#111"},"encoding":{"x":{"datum":-0.048,"type":"quantitative","axis":null},"y":{"datum":4.904,"type":"quantitative","axis":null}}},
{"data":{"values":[{}]},"mark":{"type":"text","text":"b","fontSize":24,"fontWeight":"bold","align":"left","baseline":"alphabetic","color":"#111"},"encoding":{"x":{"datum":6.077,"type":"quantitative","axis":null},"y":{"datum":4.57,"type":"quantitative","axis":null}}},
{"data":{"values":[{}]},"mark":{"type":"text","text":"Average Amplitude of Noise = 0.0005 A.U.","fontSize":22,"fontWeight":"bold","align":"left","baseline":"alphabetic","color":"#111"},"encoding":{"x":{"datum":-0.281,"type":"quantitative","axis":null},"y":{"datum":-3.499,"type":"quantitative","axis":null}}},
{"data":{"values":[{}]},"mark":{"type":"text","text":"Range of k","fontSize":22,"fontWeight":"bold","align":"left","baseline":"alphabetic","color":"#111"},"encoding":{"x":{"datum":-0.281,"type":"quantitative","axis":null},"y":{"datum":-5.012,"type":"quantitative","axis":null}}},
{"data":{"values":[{}]},"mark":{"type":"text","text":"inst","fontSize":17,"fontWeight":"bold","align":"left","baseline":"alphabetic","color":"#111"},"encoding":{"x":{"datum":1.367,"type":"quantitative","axis":null},"y":{"datum":-5.214,"type":"quantitative","axis":null}}},
{"data":{"values":[{}]},"mark":{"type":"text","text":"Values = +6 to -2 s","fontSize":22,"fontWeight":"bold","align":"left","baseline":"alphabetic","color":"#111"},"encoding":{"x":{"datum":1.862,"type":"quantitative","axis":null},"y":{"datum":-5.012,"type":"quantitative","axis":null}}},
{"data":{"values":[{}]},"mark":{"type":"text","text":"-1","fontSize":15,"fontWeight":"bold","align":"left","baseline":"alphabetic","color":"#111"},"encoding":{"x":{"datum":4.677,"type":"quantitative","axis":null},"y":{"datum":-4.541,"type":"quantitative","axis":null}}},
{"data":{"values":[{}]},"mark":{"type":"text","text":"k","fontSize":21,"fontWeight":"bold","align":"left","baseline":"alphabetic","color":"#111"},"encoding":{"x":{"datum":-1.7396,"type":"quantitative","axis":null},"y":{"datum":0.265,"type":"quantitative","axis":null}}},
{"data":{"values":[{}]},"mark":{"type":"text","text":"inst","fontSize":17,"fontWeight":"bold","align":"left","baseline":"alphabetic","color":"#111"},"encoding":{"x":{"datum":-1.5646,"type":"quantitative","axis":null},"y":{"datum":-0.037,"type":"quantitative","axis":null}}},
{"data":{"values":[{}]},"mark":{"type":"text","text":"/s","fontSize":21,"fontWeight":"bold","align":"left","baseline":"alphabetic","color":"#111"},"encoding":{"x":{"datum":-1.1125,"type":"quantitative","axis":null},"y":{"datum":0.265,"type":"quantitative","axis":null}}},
{"data":{"values":[{}]},"mark":{"type":"text","text":"-1","fontSize":15,"fontWeight":"bold","align":"left","baseline":"alphabetic","color":"#111"},"encoding":{"x":{"datum":-0.85,"type":"quantitative","axis":null},"y":{"datum":0.535,"type":"quantitative","axis":null}}}
]},
{"width":495,"height":372,"view":{"stroke":null},
"resolve":{"axis":{"x":"independent","y":"independent"}},
"layer":[
{"data":{"values":[
{"t":0,"v":0.286},{"t":0,"v":0.291},{"t":0,"v":0.289},{"t":0.03,"v":0.288},{"t":0.03,"v":0.284},{"t":0.03,"v":0.292},{"t":0.06,"v":0.285},{"t":0.06,"v":0.29},{"t":0.06,"v":0.287},{"t":0.09,"v":0.282},{"t":0.09,"v":0.289},{"t":0.09,"v":0.293},
{"t":0.12,"v":0.286},{"t":0.12,"v":0.281},{"t":0.12,"v":0.29},{"t":0.15,"v":0.284},{"t":0.15,"v":0.279},{"t":0.15,"v":0.288},{"t":0.18,"v":0.287},{"t":0.18,"v":0.282},{"t":0.18,"v":0.292},{"t":0.21,"v":0.28},{"t":0.21,"v":0.285},{"t":0.21,"v":0.29},
{"t":0.24,"v":0.283},{"t":0.24,"v":0.278},{"t":0.24,"v":0.288},{"t":0.27,"v":0.29},{"t":0.27,"v":0.281},{"t":0.27,"v":0.294},{"t":0.3,"v":0.276},{"t":0.3,"v":0.284},{"t":0.3,"v":0.298},{"t":0.33,"v":0.268},{"t":0.33,"v":0.281},{"t":0.33,"v":0.289},
{"t":0.36,"v":0.285},{"t":0.36,"v":0.277},{"t":0.36,"v":0.292},{"t":0.39,"v":0.279},{"t":0.39,"v":0.288},{"t":0.39,"v":0.273},{"t":0.42,"v":0.282},{"t":0.42,"v":0.29},{"t":0.42,"v":0.275},{"t":0.45,"v":0.286},{"t":0.45,"v":0.279},{"t":0.45,"v":0.296},
{"t":0.48,"v":0.277},{"t":0.48,"v":0.284},{"t":0.48,"v":0.289},{"t":0.51,"v":0.281},{"t":0.51,"v":0.274},{"t":0.51,"v":0.291},{"t":0.54,"v":0.285},{"t":0.54,"v":0.279},{"t":0.54,"v":0.292},{"t":0.57,"v":0.276},{"t":0.57,"v":0.283},{"t":0.57,"v":0.288},
{"t":0.6,"v":0.28},{"t":0.6,"v":0.273},{"t":0.6,"v":0.29},{"t":0.63,"v":0.284},{"t":0.63,"v":0.278},{"t":0.63,"v":0.293},{"t":0.66,"v":0.276},{"t":0.66,"v":0.282},{"t":0.66,"v":0.287},{"t":0.69,"v":0.271},{"t":0.69,"v":0.279},{"t":0.69,"v":0.288},
{"t":0.72,"v":0.283},{"t":0.72,"v":0.276},{"t":0.72,"v":0.291},{"t":0.75,"v":0.267},{"t":0.75,"v":0.28},{"t":0.75,"v":0.286},{"t":0.78,"v":0.277},{"t":0.78,"v":0.284},{"t":0.78,"v":0.29},{"t":0.81,"v":0.274},{"t":0.81,"v":0.281},{"t":0.81,"v":0.291},
{"t":0.84,"v":0.279},{"t":0.84,"v":0.272},{"t":0.84,"v":0.287},{"t":0.87,"v":0.283},{"t":0.87,"v":0.276},{"t":0.87,"v":0.292},{"t":0.9,"v":0.27},{"t":0.9,"v":0.279},{"t":0.9,"v":0.288},{"t":0.93,"v":0.281},{"t":0.93,"v":0.275},{"t":0.93,"v":0.29},
{"t":0.96,"v":0.277},{"t":0.96,"v":0.284},{"t":0.96,"v":0.293},{"t":0.99,"v":0.272},{"t":0.99,"v":0.28},{"t":0.99,"v":0.287},{"t":1.02,"v":0.265},{"t":1.02,"v":0.278},{"t":1.02,"v":0.289},{"t":1.05,"v":0.283},{"t":1.05,"v":0.274},{"t":1.05,"v":0.298},
{"t":1.08,"v":0.277},{"t":1.08,"v":0.286},{"t":1.08,"v":0.269},{"t":1.11,"v":0.28},{"t":1.11,"v":0.272},{"t":1.11,"v":0.29},{"t":1.14,"v":0.275},{"t":1.14,"v":0.283},{"t":1.14,"v":0.292},{"t":1.17,"v":0.269},{"t":1.17,"v":0.279},{"t":1.17,"v":0.288},
{"t":1.2,"v":0.282},{"t":1.2,"v":0.274},{"t":1.2,"v":0.294},{"t":1.23,"v":0.277},{"t":1.23,"v":0.286},{"t":1.23,"v":0.268},{"t":1.26,"v":0.273},{"t":1.26,"v":0.281},{"t":1.26,"v":0.29},{"t":1.29,"v":0.279},{"t":1.29,"v":0.27},{"t":1.29,"v":0.287},
{"t":1.32,"v":0.266},{"t":1.32,"v":0.283},{"t":1.32,"v":0.298},{"t":1.35,"v":0.275},{"t":1.35,"v":0.28},{"t":1.35,"v":0.289},{"t":1.38,"v":0.271},{"t":1.38,"v":0.285},{"t":1.38,"v":0.277},{"t":1.41,"v":0.279},{"t":1.41,"v":0.268},{"t":1.41,"v":0.29},
{"t":1.44,"v":0.274},{"t":1.44,"v":0.283},{"t":1.44,"v":0.287},{"t":1.47,"v":0.27},{"t":1.47,"v":0.278},{"t":1.47,"v":0.292},{"t":0.02,"v":0.308},
{"t":1.5,"v":0.28},{"t":1.5,"v":0.272},{"t":1.5,"v":0.289},{"t":1.53,"v":0.274},{"t":1.53,"v":0.285},{"t":1.53,"v":0.268},{"t":1.56,"v":0.282},{"t":1.56,"v":0.277},{"t":1.56,"v":0.295},{"t":1.59,"v":0.266},{"t":1.59,"v":0.279},{"t":1.59,"v":0.287},
{"t":1.62,"v":0.275},{"t":1.62,"v":0.284},{"t":1.62,"v":0.27},{"t":1.65,"v":0.279},{"t":1.65,"v":0.289},{"t":1.65,"v":0.268},{"t":1.68,"v":0.272},{"t":1.68,"v":0.282},{"t":1.68,"v":0.286},{"t":1.71,"v":0.267},{"t":1.71,"v":0.278},{"t":1.71,"v":0.29},
{"t":1.74,"v":0.284},{"t":1.74,"v":0.275},{"t":1.74,"v":0.288},{"t":1.77,"v":0.27},{"t":1.77,"v":0.28},{"t":1.77,"v":0.291},{"t":1.8,"v":0.276},{"t":1.8,"v":0.264},{"t":1.8,"v":0.285},{"t":1.83,"v":0.281},{"t":1.83,"v":0.27},{"t":1.83,"v":0.289},
{"t":1.86,"v":0.275},{"t":1.86,"v":0.284},{"t":1.86,"v":0.266},{"t":1.89,"v":0.257},{"t":1.89,"v":0.27},{"t":1.89,"v":0.279},{"t":1.92,"v":0.287},{"t":1.92,"v":0.276},{"t":1.92,"v":0.29},{"t":1.95,"v":0.272},{"t":1.95,"v":0.281},{"t":1.95,"v":0.293},
{"t":1.98,"v":0.279},{"t":1.98,"v":0.268},{"t":1.98,"v":0.3},{"t":2.01,"v":0.309},{"t":2.01,"v":0.3},{"t":2.01,"v":0.285},{"t":2.04,"v":0.266},{"t":2.04,"v":0.276},{"t":2.04,"v":0.258},{"t":2.07,"v":0.252},{"t":2.07,"v":0.27},{"t":2.07,"v":0.282},
{"t":2.1,"v":0.29},{"t":2.1,"v":0.279},{"t":2.1,"v":0.264},{"t":2.13,"v":0.274},{"t":2.13,"v":0.285},{"t":2.13,"v":0.267},{"t":2.16,"v":0.28},{"t":2.16,"v":0.289},{"t":2.16,"v":0.271},{"t":2.19,"v":0.296},{"t":2.19,"v":0.285},{"t":2.19,"v":0.265},
{"t":2.22,"v":0.275},{"t":2.22,"v":0.262},{"t":2.22,"v":0.283},{"t":2.25,"v":0.29},{"t":2.25,"v":0.278},{"t":2.25,"v":0.27},{"t":2.28,"v":0.266},{"t":2.28,"v":0.284},{"t":2.28,"v":0.272},{"t":2.31,"v":0.3},{"t":2.31,"v":0.289},{"t":2.31,"v":0.277},
{"t":2.34,"v":0.283},{"t":2.34,"v":0.273},{"t":2.34,"v":0.265},{"t":2.37,"v":0.268},{"t":2.37,"v":0.291},{"t":2.37,"v":0.278},{"t":2.4,"v":0.287},{"t":2.4,"v":0.275},{"t":2.4,"v":0.263},{"t":2.43,"v":0.282},{"t":2.43,"v":0.296},{"t":2.43,"v":0.27},
{"t":2.46,"v":0.262},{"t":2.46,"v":0.273},{"t":2.46,"v":0.287},{"t":2.49,"v":0.256},{"t":2.49,"v":0.268},{"t":2.49,"v":0.29},
{"t":2.52,"v":0.248},{"t":2.55,"v":0.254},{"t":2.58,"v":0.26},{"t":2.52,"v":0.272},{"t":2.55,"v":0.278},{"t":2.58,"v":0.284},
{"t":2.62,"v":0.255},{"t":2.65,"v":0.261},{"t":2.68,"v":0.267},{"t":2.62,"v":0.28},{"t":2.65,"v":0.286},{"t":2.68,"v":0.292},
{"t":2.72,"v":0.244},{"t":2.75,"v":0.25},{"t":2.78,"v":0.256},{"t":2.72,"v":0.266},{"t":2.75,"v":0.272},{"t":2.78,"v":0.278},{"t":2.72,"v":0.29},{"t":2.75,"v":0.296},{"t":2.78,"v":0.302},
{"t":2.82,"v":0.252},{"t":2.85,"v":0.258},{"t":2.88,"v":0.264},{"t":2.82,"v":0.276},{"t":2.85,"v":0.282},{"t":2.88,"v":0.288},
{"t":2.92,"v":0.243},{"t":2.95,"v":0.249},{"t":2.98,"v":0.255},{"t":2.92,"v":0.262},{"t":2.95,"v":0.268},{"t":2.98,"v":0.274},{"t":2.92,"v":0.285},{"t":2.95,"v":0.291},{"t":2.98,"v":0.297},
{"t":3.02,"v":0.25},{"t":3.05,"v":0.256},{"t":3.08,"v":0.262},{"t":3.02,"v":0.275},{"t":3.05,"v":0.281},{"t":3.08,"v":0.287},{"t":3.02,"v":0.3},{"t":3.05,"v":0.306},{"t":3.08,"v":0.312},{"t":3.08,"v":0.318},{"t":3.09,"v":0.325},
{"t":3.12,"v":0.245},{"t":3.15,"v":0.251},{"t":3.18,"v":0.257},{"t":3.12,"v":0.27},{"t":3.15,"v":0.276},{"t":3.18,"v":0.282},{"t":3.12,"v":0.29},{"t":3.15,"v":0.296},{"t":3.18,"v":0.302},{"t":3.17,"v":0.228},{"t":3.17,"v":0.236},
{"t":3.22,"v":0.24},{"t":3.25,"v":0.246},{"t":3.28,"v":0.252},{"t":3.22,"v":0.264},{"t":3.25,"v":0.27},{"t":3.28,"v":0.276},{"t":3.22,"v":0.286},{"t":3.25,"v":0.292},{"t":3.28,"v":0.298},
{"t":3.32,"v":0.25},{"t":3.35,"v":0.256},{"t":3.38,"v":0.262},{"t":3.32,"v":0.273},{"t":3.35,"v":0.279},{"t":3.38,"v":0.285},
{"t":3.42,"v":0.236},{"t":3.45,"v":0.242},{"t":3.48,"v":0.248},{"t":3.42,"v":0.258},{"t":3.45,"v":0.264},{"t":3.48,"v":0.27},{"t":3.42,"v":0.282},{"t":3.45,"v":0.288},{"t":3.48,"v":0.294},
{"t":3.52,"v":0.245},{"t":3.55,"v":0.251},{"t":3.58,"v":0.257},{"t":3.52,"v":0.27},{"t":3.55,"v":0.276},{"t":3.58,"v":0.282},{"t":3.52,"v":0.293},{"t":3.55,"v":0.299},{"t":3.58,"v":0.305},{"t":3.57,"v":0.218},{"t":3.57,"v":0.226},{"t":3.57,"v":0.236},
{"t":3.62,"v":0.238},{"t":3.65,"v":0.244},{"t":3.68,"v":0.25},{"t":3.62,"v":0.262},{"t":3.65,"v":0.268},{"t":3.68,"v":0.274},{"t":3.62,"v":0.286},{"t":3.65,"v":0.292},{"t":3.68,"v":0.298},{"t":3.67,"v":0.315},{"t":3.67,"v":0.323},
{"t":3.72,"v":0.235},{"t":3.75,"v":0.241},{"t":3.78,"v":0.247},{"t":3.72,"v":0.258},{"t":3.75,"v":0.264},{"t":3.78,"v":0.27},{"t":3.72,"v":0.283},{"t":3.75,"v":0.289},{"t":3.78,"v":0.295},
{"t":3.82,"v":0.245},{"t":3.85,"v":0.251},{"t":3.88,"v":0.257},{"t":3.82,"v":0.27},{"t":3.85,"v":0.276},{"t":3.88,"v":0.282},{"t":3.82,"v":0.292},{"t":3.85,"v":0.298},{"t":3.88,"v":0.304},
{"t":3.92,"v":0.231},{"t":3.95,"v":0.237},{"t":3.98,"v":0.243},{"t":3.92,"v":0.256},{"t":3.95,"v":0.262},{"t":3.98,"v":0.268},{"t":3.92,"v":0.28},{"t":3.95,"v":0.286},{"t":3.98,"v":0.292},
{"t":4.02,"v":0.242},{"t":4.05,"v":0.248},{"t":4.08,"v":0.254},{"t":4.02,"v":0.266},{"t":4.05,"v":0.272},{"t":4.08,"v":0.278},{"t":4.02,"v":0.29},{"t":4.05,"v":0.296},{"t":4.08,"v":0.302},
{"t":4.12,"v":0.236},{"t":4.15,"v":0.242},{"t":4.18,"v":0.248},{"t":4.12,"v":0.26},{"t":4.15,"v":0.266},{"t":4.18,"v":0.272},{"t":4.12,"v":0.286},{"t":4.15,"v":0.292},{"t":4.18,"v":0.298},
{"t":4.22,"v":0.218},{"t":4.25,"v":0.224},{"t":4.28,"v":0.23},{"t":4.22,"v":0.244},{"t":4.25,"v":0.25},{"t":4.28,"v":0.256},{"t":4.22,"v":0.268},{"t":4.25,"v":0.274},{"t":4.28,"v":0.28},{"t":4.22,"v":0.294},{"t":4.25,"v":0.3},{"t":4.28,"v":0.306},
{"t":4.32,"v":0.232},{"t":4.35,"v":0.238},{"t":4.38,"v":0.244},{"t":4.32,"v":0.258},{"t":4.35,"v":0.264},{"t":4.38,"v":0.27},{"t":4.32,"v":0.284},{"t":4.35,"v":0.29},{"t":4.38,"v":0.296},
{"t":4.42,"v":0.22},{"t":4.45,"v":0.226},{"t":4.48,"v":0.232},{"t":4.42,"v":0.248},{"t":4.45,"v":0.254},{"t":4.48,"v":0.26},{"t":4.42,"v":0.274},{"t":4.45,"v":0.28},{"t":4.48,"v":0.286},{"t":4.42,"v":0.3},{"t":4.45,"v":0.306},{"t":4.48,"v":0.312},
{"t":4.52,"v":0.21},{"t":4.55,"v":0.216},{"t":4.58,"v":0.222},{"t":4.52,"v":0.238},{"t":4.55,"v":0.244},{"t":4.58,"v":0.25},{"t":4.52,"v":0.265},{"t":4.55,"v":0.271},{"t":4.58,"v":0.277},{"t":4.52,"v":0.292},{"t":4.55,"v":0.298},{"t":4.58,"v":0.304},{"t":4.52,"v":0.32},{"t":4.55,"v":0.326},{"t":4.58,"v":0.332},
{"t":4.62,"v":0.205},{"t":4.65,"v":0.211},{"t":4.68,"v":0.217},{"t":4.62,"v":0.234},{"t":4.65,"v":0.24},{"t":4.68,"v":0.246},{"t":4.62,"v":0.262},{"t":4.65,"v":0.268},{"t":4.68,"v":0.274},{"t":4.62,"v":0.29},{"t":4.65,"v":0.296},{"t":4.68,"v":0.302},{"t":4.62,"v":0.325},{"t":4.65,"v":0.331},{"t":4.68,"v":0.337},{"t":4.64,"v":0.193},
{"t":4.72,"v":0.212},{"t":4.75,"v":0.218},{"t":4.78,"v":0.224},{"t":4.72,"v":0.24},{"t":4.75,"v":0.246},{"t":4.78,"v":0.252},{"t":4.72,"v":0.27},{"t":4.75,"v":0.276},{"t":4.78,"v":0.282},{"t":4.72,"v":0.3},{"t":4.75,"v":0.306},{"t":4.78,"v":0.312},{"t":4.72,"v":0.333},{"t":4.75,"v":0.339},{"t":4.78,"v":0.345},
{"t":4.82,"v":0.204},{"t":4.85,"v":0.21},{"t":4.88,"v":0.216},{"t":4.82,"v":0.232},{"t":4.85,"v":0.238},{"t":4.88,"v":0.244},{"t":4.82,"v":0.26},{"t":4.85,"v":0.266},{"t":4.88,"v":0.272},{"t":4.82,"v":0.29},{"t":4.85,"v":0.296},{"t":4.88,"v":0.302},{"t":4.82,"v":0.32},{"t":4.85,"v":0.326},{"t":4.88,"v":0.332},
{"t":4.92,"v":0.218},{"t":4.95,"v":0.224},{"t":4.98,"v":0.23},{"t":4.92,"v":0.246},{"t":4.95,"v":0.252},{"t":4.98,"v":0.258},{"t":4.92,"v":0.276},{"t":4.95,"v":0.282},{"t":4.98,"v":0.288},{"t":4.92,"v":0.306},{"t":4.95,"v":0.312},{"t":4.98,"v":0.318},{"t":4.92,"v":0.34},{"t":4.95,"v":0.346},{"t":4.98,"v":0.352},
{"t":5.02,"v":0.205},{"t":5.05,"v":0.211},{"t":5.08,"v":0.217},{"t":5.02,"v":0.232},{"t":5.05,"v":0.238},{"t":5.08,"v":0.244},{"t":5.02,"v":0.262},{"t":5.05,"v":0.268},{"t":5.08,"v":0.274},{"t":5.02,"v":0.292},{"t":5.05,"v":0.298},{"t":5.08,"v":0.304},{"t":5.02,"v":0.325},{"t":5.05,"v":0.331},{"t":5.08,"v":0.337},
{"t":5.12,"v":0.22},{"t":5.15,"v":0.226},{"t":5.18,"v":0.232},{"t":5.12,"v":0.25},{"t":5.15,"v":0.256},{"t":5.18,"v":0.262},{"t":5.12,"v":0.28},{"t":5.15,"v":0.286},{"t":5.18,"v":0.292},{"t":5.12,"v":0.312},{"t":5.15,"v":0.318},{"t":5.18,"v":0.324},{"t":5.12,"v":0.345},{"t":5.15,"v":0.351},{"t":5.18,"v":0.357},
{"t":5.22,"v":0.186},{"t":5.25,"v":0.192},{"t":5.28,"v":0.198},{"t":5.22,"v":0.215},{"t":5.25,"v":0.221},{"t":5.28,"v":0.227},{"t":5.22,"v":0.245},{"t":5.25,"v":0.251},{"t":5.28,"v":0.257},{"t":5.22,"v":0.278},{"t":5.25,"v":0.284},{"t":5.28,"v":0.29},{"t":5.22,"v":0.312},{"t":5.25,"v":0.318},{"t":5.28,"v":0.324},
{"t":5.27,"v":0.172},{"t":5.26,"v":0.336},{"t":5.265,"v":0.35},{"t":5.27,"v":0.364},{"t":5.27,"v":0.378},{"t":5.275,"v":0.392},
{"t":5.32,"v":0.2},{"t":5.35,"v":0.206},{"t":5.38,"v":0.212},{"t":5.32,"v":0.23},{"t":5.35,"v":0.236},{"t":5.38,"v":0.242},{"t":5.32,"v":0.26},{"t":5.35,"v":0.266},{"t":5.38,"v":0.272},{"t":5.32,"v":0.293},{"t":5.35,"v":0.299},{"t":5.38,"v":0.305},{"t":5.32,"v":0.33},{"t":5.35,"v":0.336},{"t":5.38,"v":0.342},
{"t":5.42,"v":0.21},{"t":5.45,"v":0.216},{"t":5.48,"v":0.222},{"t":5.42,"v":0.24},{"t":5.45,"v":0.246},{"t":5.48,"v":0.252},{"t":5.42,"v":0.272},{"t":5.45,"v":0.278},{"t":5.48,"v":0.284},{"t":5.42,"v":0.305},{"t":5.45,"v":0.311},{"t":5.48,"v":0.317},{"t":5.42,"v":0.34},{"t":5.45,"v":0.346},{"t":5.48,"v":0.352},{"t":5.48,"v":0.371},
{"t":5.52,"v":0.185},{"t":5.55,"v":0.191},{"t":5.58,"v":0.197},{"t":5.52,"v":0.218},{"t":5.55,"v":0.224},{"t":5.58,"v":0.23},{"t":5.52,"v":0.25},{"t":5.55,"v":0.256},{"t":5.58,"v":0.262},{"t":5.52,"v":0.282},{"t":5.55,"v":0.288},{"t":5.58,"v":0.294},{"t":5.52,"v":0.315},{"t":5.55,"v":0.321},{"t":5.58,"v":0.327},
{"t":5.62,"v":0.2},{"t":5.65,"v":0.206},{"t":5.68,"v":0.212},{"t":5.62,"v":0.228},{"t":5.65,"v":0.234},{"t":5.68,"v":0.24},{"t":5.62,"v":0.26},{"t":5.65,"v":0.266},{"t":5.68,"v":0.272},{"t":5.62,"v":0.292},{"t":5.65,"v":0.298},{"t":5.68,"v":0.304},{"t":5.62,"v":0.325},{"t":5.65,"v":0.331},{"t":5.68,"v":0.337},{"t":5.66,"v":0.356},
{"t":5.72,"v":0.183},{"t":5.75,"v":0.189},{"t":5.78,"v":0.195},{"t":5.72,"v":0.212},{"t":5.75,"v":0.218},{"t":5.78,"v":0.224},{"t":5.72,"v":0.242},{"t":5.75,"v":0.248},{"t":5.78,"v":0.254},{"t":5.72,"v":0.275},{"t":5.75,"v":0.281},{"t":5.78,"v":0.287},{"t":5.72,"v":0.31},{"t":5.75,"v":0.316},{"t":5.78,"v":0.322},{"t":5.72,"v":0.34},{"t":5.75,"v":0.346},{"t":5.78,"v":0.352},
{"t":5.82,"v":0.19},{"t":5.85,"v":0.196},{"t":5.88,"v":0.202},{"t":5.82,"v":0.22},{"t":5.85,"v":0.226},{"t":5.88,"v":0.232},{"t":5.82,"v":0.25},{"t":5.85,"v":0.256},{"t":5.88,"v":0.262},{"t":5.82,"v":0.285},{"t":5.85,"v":0.291},{"t":5.88,"v":0.297},{"t":5.82,"v":0.32},{"t":5.85,"v":0.326},{"t":5.88,"v":0.332},
{"t":5.96,"v":0.191},{"t":5.93,"v":0.26},{"t":5.95,"v":0.265},{"t":5.96,"v":0.275},{"t":5.93,"v":0.29},{"t":5.95,"v":0.295},{"t":5.96,"v":0.31},{"t":5.94,"v":0.33},{"t":5.95,"v":0.345},{"t":5.96,"v":0.364}
]},
"mark":{"type":"circle","size":20,"color":"#111","opacity":1},
"encoding":{
"x":{"field":"t","type":"quantitative","scale":{"domain":[-0.5,6.5],"nice":false,"zero":false},
"axis":{"values":[-0.5,0,0.5,1,1.5,2,2.5,3,3.5,4,4.5,5,5.5,6,6.5],"labelExpr":"datum.value >= 0 && datum.value <= 6 && datum.value == floor(datum.value) ? '' + datum.value : ''","title":"time/s","titleX":233,"titleY":48,"titleBaseline":"alphabetic","titleAlign":"center"}},
"y":{"field":"v","type":"quantitative","scale":{"domain":[0.15,0.425],"nice":false,"zero":false},
"axis":{"values":[0.15,0.175,0.2,0.225,0.25,0.275,0.3,0.325,0.35,0.375,0.4],"labelExpr":"indexof([0.15,0.2,0.25,0.3,0.35,0.4], datum.value) >= 0 ? format(datum.value, '.2f') : ''","title":null}}}},
{"data":{"values":[{}]},"mark":{"type":"rule","color":"#111","strokeWidth":1},"encoding":{"y":{"datum":0.425,"type":"quantitative","axis":null}}},
{"data":{"values":[{}]},"mark":{"type":"text","text":"Savitsky - Golay least-squares smoothed data","fontSize":22,"fontWeight":"bold","align":"left","baseline":"alphabetic","color":"#111"},"encoding":{"x":{"datum":-0.458,"type":"quantitative","axis":null},"y":{"datum":0.4093,"type":"quantitative","axis":null}}},
{"data":{"values":[{}]},"mark":{"type":"text","text":"c","fontSize":24,"fontWeight":"bold","align":"left","baseline":"alphabetic","color":"#111"},"encoding":{"x":{"datum":6.09,"type":"quantitative","axis":null},"y":{"datum":0.3738,"type":"quantitative","axis":null}}},
{"data":{"values":[{}]},"mark":{"type":"text","text":"Range of Values = +0.18 to +0.40","fontSize":24,"fontWeight":"bold","align":"left","baseline":"alphabetic","color":"#111"},"encoding":{"x":{"datum":-0.387,"type":"quantitative","axis":null},"y":{"datum":0.169,"type":"quantitative","axis":null}}},
{"data":{"values":[{}]},"mark":{"type":"text","text":"k","fontSize":21,"fontWeight":"bold","align":"left","baseline":"alphabetic","color":"#111"},"encoding":{"x":{"datum":-1.914,"type":"quantitative","axis":null},"y":{"datum":0.2667,"type":"quantitative","axis":null}}},
{"data":{"values":[{}]},"mark":{"type":"text","text":"inst","fontSize":17,"fontWeight":"bold","align":"left","baseline":"alphabetic","color":"#111"},"encoding":{"x":{"datum":-1.7445,"type":"quantitative","axis":null},"y":{"datum":0.2615,"type":"quantitative","axis":null}}},
{"data":{"values":[{}]},"mark":{"type":"text","text":"/s","fontSize":21,"fontWeight":"bold","align":"left","baseline":"alphabetic","color":"#111"},"encoding":{"x":{"datum":-1.2495,"type":"quantitative","axis":null},"y":{"datum":0.2667,"type":"quantitative","axis":null}}},
{"data":{"values":[{}]},"mark":{"type":"text","text":"-1","fontSize":15,"fontWeight":"bold","align":"left","baseline":"alphabetic","color":"#111"},"encoding":{"x":{"datum":-1.002,"type":"quantitative","axis":null},"y":{"datum":0.2814,"type":"quantitative","axis":null}}}
]}
]
}
